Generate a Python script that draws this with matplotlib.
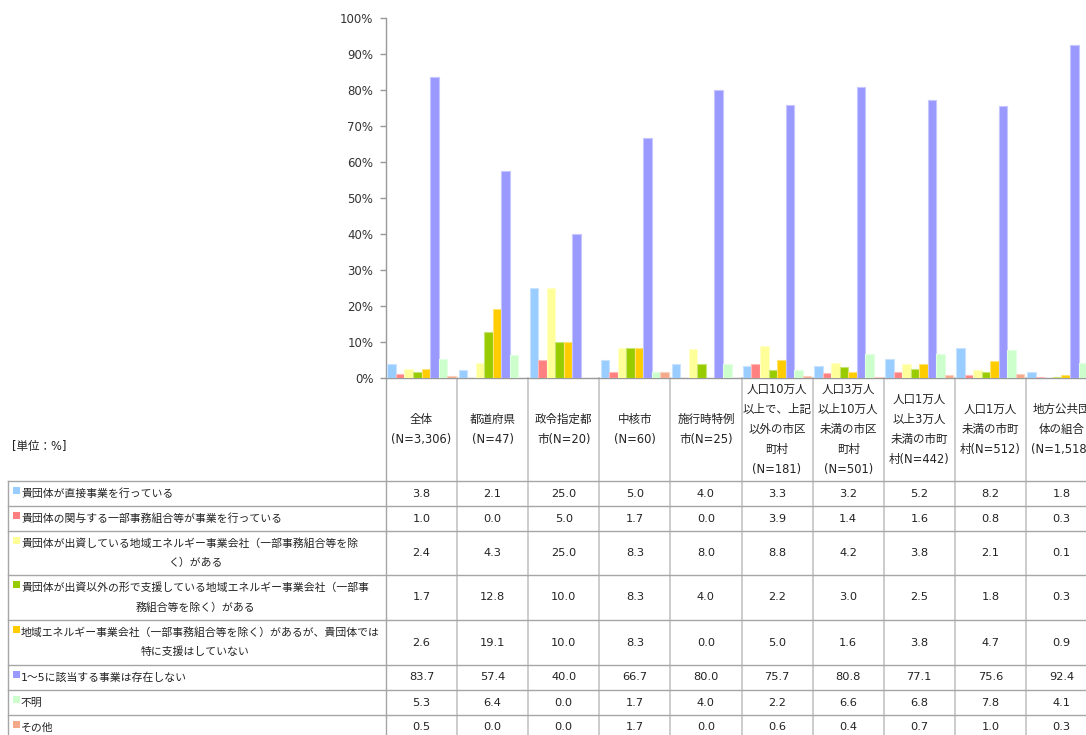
import matplotlib
matplotlib.use("Agg")
import matplotlib.pyplot as plt
import matplotlib.transforms as mtransforms
from matplotlib.patches import Rectangle
from matplotlib.colors import to_rgb
import numpy as np

plt.rcParams['font.family'] = ['DejaVu Sans', 'Noto Sans CJK JP']

# ---------------- data ----------------
categories = [
    "全体\n(N=3,306)",
    "都道府県\n(N=47)",
    "政令指定都\n市(N=20)",
    "中核市\n(N=60)",
    "施行時特例\n市(N=25)",
    "人口10万人\n以上で、上記\n以外の市区\n町村\n(N=181)",
    "人口3万人\n以上10万人\n未満の市区\n町村\n(N=501)",
    "人口1万人\n以上3万人\n未満の市町\n村(N=442)",
    "人口1万人\n未満の市町\n村(N=512)",
    "地方公共団\n体の組合\n(N=1,518)",
]

series_labels = [
    "貴団体が直接事業を行っている",
    "貴団体の関与する一部事務組合等が事業を行っている",
    "貴団体が出資している地域エネルギー事業会社（一部事務組合等を除\nく）がある",
    "貴団体が出資以外の形で支援している地域エネルギー事業会社（一部事\n務組合等を除く）がある",
    "地域エネルギー事業会社（一部事務組合等を除く）があるが、貴団体では\n特に支援はしていない",
    "1～5に該当する事業は存在しない",
    "不明",
    "その他",
]

s1 = [3.8, 2.1, 25.0, 5.0, 4.0, 3.3, 3.2, 5.2, 8.2, 1.8]
s2 = [1.0, 0.0, 5.0, 1.7, 0.0, 3.9, 1.4, 1.6, 0.8, 0.3]
s3 = [2.4, 4.3, 25.0, 8.3, 8.0, 8.8, 4.2, 3.8, 2.1, 0.1]
s4 = [1.7, 12.8, 10.0, 8.3, 4.0, 2.2, 3.0, 2.5, 1.8, 0.3]
s5 = [2.6, 19.1, 10.0, 8.3, 0.0, 5.0, 1.6, 3.8, 4.7, 0.9]
s6 = [83.7, 57.4, 40.0, 66.7, 80.0, 75.7, 80.8, 77.1, 75.6, 92.4]
s7 = [5.3, 6.4, 0.0, 1.7, 4.0, 2.2, 6.6, 6.8, 7.8, 4.1]
s8 = [0.5, 0.0, 0.0, 1.7, 0.0, 0.6, 0.4, 0.7, 1.0, 0.3]
series_values = [s1, s2, s3, s4, s5, s6, s7, s8]

colors = ["#99CCFF", "#FF8080", "#FFFF99", "#99CC00",
          "#FFCC00", "#9999FF", "#CCFFCC", "#F4A98A"]

unit_label = "[単位：%]"
yticks = list(range(0, 101, 10))

# ---------------- figure ----------------
W, H = 1086, 735
fig = plt.figure(figsize=(W / 100, H / 100), dpi=100)

# overlay axes in pixel coordinates for the table
axt = fig.add_axes([0, 0, 1, 1])
axt.set_xlim(0, W)
axt.set_ylim(H, 0)
axt.axis("off")

ax_left, ax_right, ax_top, ax_bot = 386, 1097, 18, 378
ax = fig.add_axes([ax_left / W, (H - ax_bot) / H,
                   (ax_right - ax_left) / W, (ax_bot - ax_top) / H])

n_groups = len(categories)
n_series = len(series_values)
x = np.arange(n_groups)
bw = 0.12
for i, (vals, c) in enumerate(zip(series_values, colors)):
    rgb = np.array(to_rgb(c))
    edge = rgb * 0.55 + 0.45
    offs = (i - (n_series - 1) / 2) * bw
    ax.bar(x + offs, vals, width=bw, color=c, edgecolor=edge,
           linewidth=0.8, zorder=3)

ax.set_xlim(-0.5, n_groups - 0.5)
ax.set_ylim(0, 100)
ax.set_yticks(yticks)
ax.set_yticklabels([f"{t}%" for t in yticks], fontsize=8.5, color="#333333")
ax.tick_params(axis="y", length=4, width=1, color="#999999", pad=5)
ax.tick_params(axis="x", length=0, labelbottom=False)
for s in ["top", "right"]:
    ax.spines[s].set_visible(False)
for s in ["left", "bottom"]:
    ax.spines[s].set_color("#999999")
    ax.spines[s].set_linewidth(1)
ax.set_facecolor("none")

# ---------------- table ----------------
blend = mtransforms.blended_transform_factory(ax.transData, axt.transData)
line_c = "#A6A6A6"
vline_c = "#C4C4C4"
row_lines = [481, 506, 531, 575, 620, 665, 690, 715, 740]
table_left = 8
fs_lab = 7.8
fs_hdr = 8.3
fs_val = 8.2
txt_c = "#222222"

# vertical lines between columns
for i in range(n_groups + 1):
    xx = i - 0.5
    col = line_c if i == 0 else vline_c
    axt.plot([xx, xx], [ax_bot, H + 5], color=col, lw=1.2 if i else 1,
             transform=blend, clip_on=False, zorder=1)
# table left border
axt.plot([table_left, table_left], [row_lines[0], H + 5], color=line_c, lw=1)
# horizontal lines
for y in row_lines[:-1]:
    axt.plot([table_left, W + 5], [y, y], color=line_c, lw=1)

# header texts
hdr_c = (ax_bot + row_lines[0]) / 2
lsp = 20
for i, cat in enumerate(categories):
    lines = cat.split("\n")
    n = len(lines)
    for k, ln in enumerate(lines):
        yy = hdr_c + (k - (n - 1) / 2) * lsp
        axt.text(i, yy, ln, transform=blend, ha="center", va="center",
                 fontsize=fs_hdr, color=txt_c, clip_on=False)

axt.text(12, 446, unit_label, ha="left", va="center", fontsize=fs_hdr,
         color=txt_c)

# rows
for r in range(n_series):
    y0, y1 = row_lines[r], row_lines[r + 1]
    yc = (y0 + y1) / 2
    lines = series_labels[r].split("\n")
    if len(lines) == 1:
        ys = [yc]
    else:
        ys = [yc - 9.7, yc + 9.7]
    axt.add_patch(Rectangle((13, ys[0] - 6.5), 6.5, 7, color=colors[r],
                            lw=0))
    axt.text(21, ys[0], lines[0], ha="left", va="center", fontsize=fs_lab,
             color=txt_c)
    if len(lines) > 1:
        axt.text(195, ys[1], lines[1], ha="center", va="center",
                 fontsize=fs_lab, color=txt_c)
    for i in range(n_groups):
        axt.text(i, yc, f"{series_values[r][i]:.1f}", transform=blend,
                 ha="center", va="center", fontsize=fs_val, color=txt_c,
                 clip_on=False)

fig.savefig("out.png", dpi=100)
